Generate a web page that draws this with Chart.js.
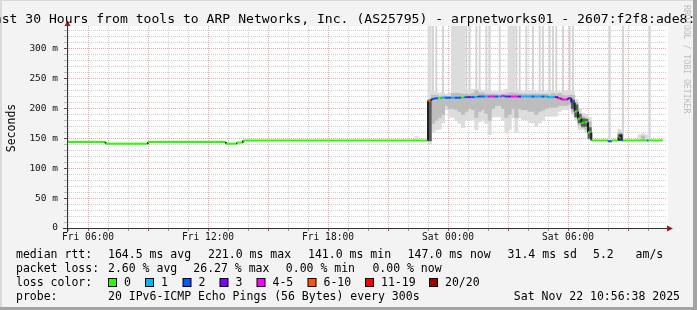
<!DOCTYPE html>
<html>
<head>
<meta charset="utf-8">
<script src="https://cdn.jsdelivr.net/npm/chart.js@4/dist/chart.umd.min.js"></script>
<style>
html, body { margin: 0; padding: 0; background: #f3f3f3; }
canvas { display: block; }
</style>
</head>
<body>
<canvas id="plot" width="697" height="310"></canvas>
<script>
// temps en minutes depuis vendredi 00:00, valeurs en ms
const xMin = 297, xMax = 2097;
const xLabelTimes = [360, 720, 1080, 1440, 1800];
const xLabels = ['Fri 06:00', 'Fri 12:00', 'Fri 18:00', 'Sat 00:00', 'Sat 06:00'];
const yLabelValues = [0, 50, 100, 150, 200, 250, 300];
const yLabels = ['0', '50 m', '100 m', '150 m', '200 m', '250 m', '300 m'];
const yMax = 338;

const lossNames = ['0', '1', '2', '3', '4-5', '6-10', '11-19', '20/20'];
const lossColors = ['#26ff00', '#00b8ff', '#0059ff', '#7e00ff', '#ff00ff', '#ff5500', '#ff0000', '#a10000'];

// ligne médiane (début de chaque palier), valeur et pings perdus
const medianTimes = [297, 413, 540, 774, 807, 825,
  1380, 1390, 1400, 1410, 1420, 1430, 1440, 1450, 1460, 1470,
  1480, 1490, 1500, 1510, 1520, 1530, 1540, 1550, 1560, 1570,
  1580, 1590, 1600, 1610, 1620, 1630, 1640, 1650, 1660, 1670,
  1680, 1690, 1700, 1710, 1720, 1730, 1740, 1750, 1760, 1770,
  1780, 1790, 1800, 1810, 1820, 1830, 1840, 1850, 1860,
  1870, 1921, 1931, 1952, 1957, 1961, 1966, 2037, 2042];
const medianEnd = 2085;
const medianValues = [144, 141, 144, 141, 143, 146.5,
  213, 216, 217, 217, 218, 218, 218, 218, 218, 218,
  218, 219, 219, 219, 219, 220, 220, 220, 220, 220,
  220, 220, 221, 220, 220, 220, 220, 220, 220, 220,
  220, 220, 220, 220, 220, 220, 219, 219, 219, 217,
  215, 215, 217, 210, 195, 183, 176, 177, 160,
  146.5, 145, 146.5, 152, 157, 146.5, 146.5, 146.5, 146.5];
const medianLoss = [0, 0, 0, 0, 0, 0,
  8, 2, 2, 0, 1, 2, 2, 1, 2, 2,
  0, 2, 3, 2, 1, 2, 2, 1, 5, 5,
  2, 1, 5, 2, 3, 5, 5, 3, 1, 1,
  1, 2, 1, 1, 2, 1, 1, 1, 3, 5,
  5, 5, 3, 2, 0, 0, 0, 0, 0,
  0, 2, 0, 0, 1, 2, 0, 2, 0];

// fumée (pas de 10 min)
const smokeTimes = [1340,
  1380, 1390, 1400, 1410, 1420, 1430, 1440, 1450, 1460, 1470,
  1480, 1490, 1500, 1510, 1520, 1530, 1540, 1550, 1560, 1570,
  1580, 1590, 1600, 1610, 1620, 1630, 1640, 1650, 1660, 1670,
  1680, 1690, 1700, 1710, 1720, 1730, 1740, 1750, 1760, 1770,
  1780, 1790, 1800, 1810, 1820, 1830, 1840, 1850, 1860,
  1950, 2010, 2020, 2030];
const lightLo = [146,
  141, 160, 164, 165, 176, 198, 185, 185, 180, 175,
  168, 180, 181, 181, 164, 178, 180, 175, 156, 186,
  186, 186, 180, 159, 165, 184, 160, 184, 181, 181,
  176, 176, 170, 176, 180, 187, 187, 187, 187, 195,
  198, 198, 200, 190, 180, 165, 165, 160, 147,
  146, 146, 146, 146];
const lightHi = [153,
  340, 228, 226, 226, 226, 224, 226, 340, 340, 340,
  340, 228, 228, 232, 232, 232, 230, 228, 228, 228,
  228, 228, 228, 232, 340, 340, 232, 228, 228, 228,
  230, 230, 228, 228, 228, 228, 228, 228, 228, 228,
  226, 230, 226, 228, 215, 200, 192, 190, 185,
  165, 156, 158, 156];
const midLo = [null,
  145, 175, 180, 185, 190, 205, 200, 200, 198, 195,
  190, 195, 200, 198, 185, 195, 198, 192, 180, 200,
  205, 205, 200, 185, 190, 200, 185, 200, 198, 198,
  195, 195, 190, 195, 197, 200, 202, 202, 202, 205,
  205, 205, 207, 195, 185, 172, 168, 165, 150,
  146, null, 146, null];
const midHi = [null,
  215, 222, 222, 220, 221, 220, 220, 225, 226, 225,
  224, 224, 223, 225, 230, 226, 226, 224, 224, 224,
  223, 223, 224, 224, 226, 226, 225, 224, 224, 224,
  224, 224, 224, 224, 224, 224, 223, 225, 223, 225,
  222, 221, 222, 222, 210, 192, 186, 184, 178,
  160, null, 154, null];
const darkTimes = [1380, 1810, 1820, 1830, 1840, 1850, 1860, 1950];
const darkLo = [146, 200, 186, 176, 170, 170, 150, 146];
const darkHi = [214, 214, 206, 190, 183, 182, 168, 156];
// pings isolés hors échelle (pics fins jusqu'en haut)
const spikeTimes = [1390, 1400, 1420, 1490, 1500, 1520, 1530, 1550, 1560, 1590,
  1640, 1650, 1670, 1690, 1710, 1720, 1740, 1750, 1760, 1780, 1800, 1810,
  1920, 1960, 2040];
const spikeLo = [222, 222, 222, 222, 222, 222, 222, 222, 222, 222,
  222, 222, 222, 222, 222, 222, 222, 222, 222, 220, 220, 216,
  147, 147, 147];
const spikeHi = [340, 340, 340, 340, 340, 340, 340, 340, 340, 340,
  340, 340, 340, 340, 340, 340, 340, 340, 340, 340, 340, 340,
  340, 340, 340];

let lossClass = n => n <= 3 ? n : n <= 5 ? 4 : n <= 10 ? 5 : n <= 19 ? 6 : 7;

// points de la ligne en paliers
let medianPoints = [];
medianTimes.forEach((t, i) => {
  let end = i + 1 < medianTimes.length ? medianTimes[i + 1] : medianEnd;
  medianPoints.push({x: t, y: medianValues[i], loss: medianLoss[i]});
  medianPoints.push({x: end, y: medianValues[i], loss: medianLoss[i]});
});

let bars = (times, lo, hi) => {
  let out = [];
  times.forEach((t, i) => {
    if (lo[i] !== null) out.push({x: t + 5, y: [lo[i], hi[i]]});
  });
  return out;
};

const mono = 'DejaVu Sans Mono';

const decor = {
  id: 'decor',
  beforeDraw(chart) {
    const {ctx, chartArea: a} = chart;
    ctx.save();
    ctx.fillStyle = '#f3f3f3';
    ctx.fillRect(0, 0, 697, 310);
    ctx.fillStyle = '#dadada';
    ctx.fillRect(0, 0, 697, 1);
    ctx.fillRect(0, 0, 2, 310);
    ctx.fillStyle = '#a3a3a3';
    ctx.fillRect(693, 0, 4, 310);
    ctx.fillRect(0, 307, 697, 3);
    ctx.fillStyle = '#ffffff';
    ctx.fillRect(a.left, a.top, a.right - a.left + 1, a.bottom - a.top);
    ctx.restore();
  },
  afterDraw(chart) {
    const {ctx, chartArea: a} = chart;
    ctx.save();
    // axes
    ctx.strokeStyle = '#333333';
    ctx.lineWidth = 1;
    ctx.beginPath();
    ctx.moveTo(63, a.bottom + 0.5);
    ctx.lineTo(668, a.bottom + 0.5);
    ctx.moveTo(a.left + 0.5, a.bottom + 4);
    ctx.lineTo(a.left + 0.5, 26);
    ctx.stroke();
    ctx.fillStyle = '#9a1c1c';
    ctx.beginPath();
    ctx.moveTo(667, a.bottom - 2.5);
    ctx.lineTo(673, a.bottom + 0.5);
    ctx.lineTo(667, a.bottom + 3.5);
    ctx.fill();
    ctx.beginPath();
    ctx.moveTo(a.left - 2.5, 26);
    ctx.lineTo(a.left + 0.5, 20.5);
    ctx.lineTo(a.left + 3.5, 26);
    ctx.fill();

    // titre
    ctx.fillStyle = '#000000';
    ctx.font = '13.1px "' + mono + '"';
    ctx.textAlign = 'center';
    ctx.textBaseline = 'alphabetic';
    ctx.fillText('Last 30 Hours from tools to ARP Networks, Inc. (AS25795) - arpnetworks01 - 2607:f2f8:ade8::2', 348.5, 23);

    // filigrane
    ctx.save();
    ctx.translate(686, 5);
    ctx.rotate(Math.PI / 2);
    ctx.fillStyle = '#bdbdbd';
    ctx.font = '8.2px "' + mono + '"';
    ctx.textAlign = 'left';
    ctx.textBaseline = 'middle';
    ctx.fillText('RRDTOOL / TOBI OETIKER', 0, 0);
    ctx.restore();

    // titre axe y
    ctx.save();
    ctx.translate(12, 128);
    ctx.rotate(-Math.PI / 2);
    ctx.font = '11.5px "' + mono + '"';
    ctx.textAlign = 'center';
    ctx.textBaseline = 'middle';
    ctx.fillText('Seconds', 0, 0);
    ctx.restore();

    // légende
    ctx.font = '11.5px "' + mono + '"';
    ctx.textAlign = 'left';
    ctx.textBaseline = 'alphabetic';
    let put = (x, y, s) => ctx.fillText(s, x, y);
    put(16, 258, 'median rtt:');
    put(108, 258, '164.5 ms avg');
    put(208, 258, '221.0 ms max');
    put(308, 258, '141.0 ms min');
    put(407.6, 258, '147.0 ms now');
    put(507.6, 258, '31.4 ms sd');
    put(593, 258, '5.2');
    put(635.6, 258, 'am/s');
    put(16, 272, 'packet loss:');
    put(108, 272, '2.60 % avg');
    put(193.3, 272, '26.27 % max');
    put(285.8, 272, '0.00 % min');
    put(372.4, 272, '0.00 % now');
    put(16, 286, 'loss color:');
    let boxX = [108, 145, 182.5, 219.5, 256.5, 307.5, 365, 429];
    lossNames.forEach((name, i) => {
      ctx.fillStyle = '#000000';
      ctx.fillRect(boxX[i], 278, 9, 9);
      ctx.fillStyle = lossColors[i];
      ctx.fillRect(boxX[i] + 1, 279, 7, 7);
      ctx.fillStyle = '#000000';
      put(boxX[i] + 16, 286, name);
    });
    put(16, 300, 'probe:');
    put(108, 300, '20 IPv6-ICMP Echo Pings (56 Bytes) every 300s');
    ctx.textAlign = 'right';
    put(680, 300, 'Sat Nov 22 10:56:38 2025');
    ctx.restore();
  }
};

let gridColor = major => major ? 'rgba(225, 40, 40, 0.42)' : 'rgba(140, 140, 140, 0.42)';

new Chart(document.getElementById('plot'), {
  type: 'bar',
  data: {
    datasets: [
      {
        type: 'line',
        data: medianPoints,
        order: 0,
        borderWidth: 2,
        borderColor: lossColors[0],
        pointRadius: 0,
        tension: 0,
        borderCapStyle: 'butt',
        segment: {
          borderColor: c => c.p0DataIndex % 2 === 1 ? '#202020' : lossColors[lossClass(medianPoints[c.p0DataIndex].loss)]
        }
      },
      {data: bars(darkTimes, darkLo, darkHi), backgroundColor: '#5c5c5c', order: 1, grouped: false,
        barPercentage: 1, categoryPercentage: 1},
      {data: bars(smokeTimes, midLo, midHi), backgroundColor: '#bdbdbd', order: 2, grouped: false,
        barPercentage: 1, categoryPercentage: 1},
      {data: bars(smokeTimes, lightLo, lightHi), backgroundColor: '#dcdcdc', order: 3, grouped: false,
        barPercentage: 1, categoryPercentage: 1},
      {data: bars(spikeTimes, spikeLo, spikeHi), backgroundColor: '#d2d2d2', order: 4, grouped: false,
        barPercentage: 0.55, categoryPercentage: 1}
    ]
  },
  options: {
    responsive: false,
    animation: false,
    devicePixelRatio: 1,
    events: [],
    layout: {padding: {left: 0, right: 30, top: 26, bottom: 68}},
    plugins: {legend: {display: false}, tooltip: {enabled: false}, title: {display: false}},
    scales: {
      x: {
        type: 'linear',
        min: xMin,
        max: xMax,
        offset: false,
        z: 1,
        afterFit: s => { s.height = 14; },
        afterBuildTicks: s => {
          let t = [];
          for (let v = 300; v <= 2040; v += 60) t.push({value: v});
          s.ticks = t;
        },
        grid: {
          offset: false,
          color: c => gridColor(c.tick && c.tick.value % 180 === 0),
          tickColor: c => c.tick && c.tick.value % 180 === 0 ? '#d23c3c' : '#999999',
          tickLength: 3
        },
        border: {display: false, dash: [1, 1]},
        ticks: {
          autoSkip: false,
          maxRotation: 0,
          minRotation: 0,
          padding: 1,
          color: '#111111',
          font: {family: mono, size: 9.6},
          callback: v => {
            let i = xLabelTimes.indexOf(v);
            return i >= 0 ? xLabels[i] : '';
          }
        }
      },
      y: {
        type: 'linear',
        min: 0,
        max: yMax,
        z: 1,
        afterFit: s => { s.width = 67; },
        afterBuildTicks: s => {
          let t = [];
          for (let v = 0; v <= 330; v += 10) t.push({value: v});
          s.ticks = t;
        },
        grid: {
          color: c => gridColor(c.tick && c.tick.value % 50 === 0),
          tickColor: c => c.tick && c.tick.value % 50 === 0 ? '#555555' : '#bbbbbb',
          tickLength: 3
        },
        border: {display: false, dash: [1, 1]},
        ticks: {
          autoSkip: false,
          padding: 6,
          color: '#111111',
          font: {family: mono, size: 9.5},
          callback: v => {
            let i = yLabelValues.indexOf(v);
            return i >= 0 ? yLabels[i] : '';
          }
        }
      }
    }
  },
  plugins: [decor]
});
</script>
</body>
</html>
